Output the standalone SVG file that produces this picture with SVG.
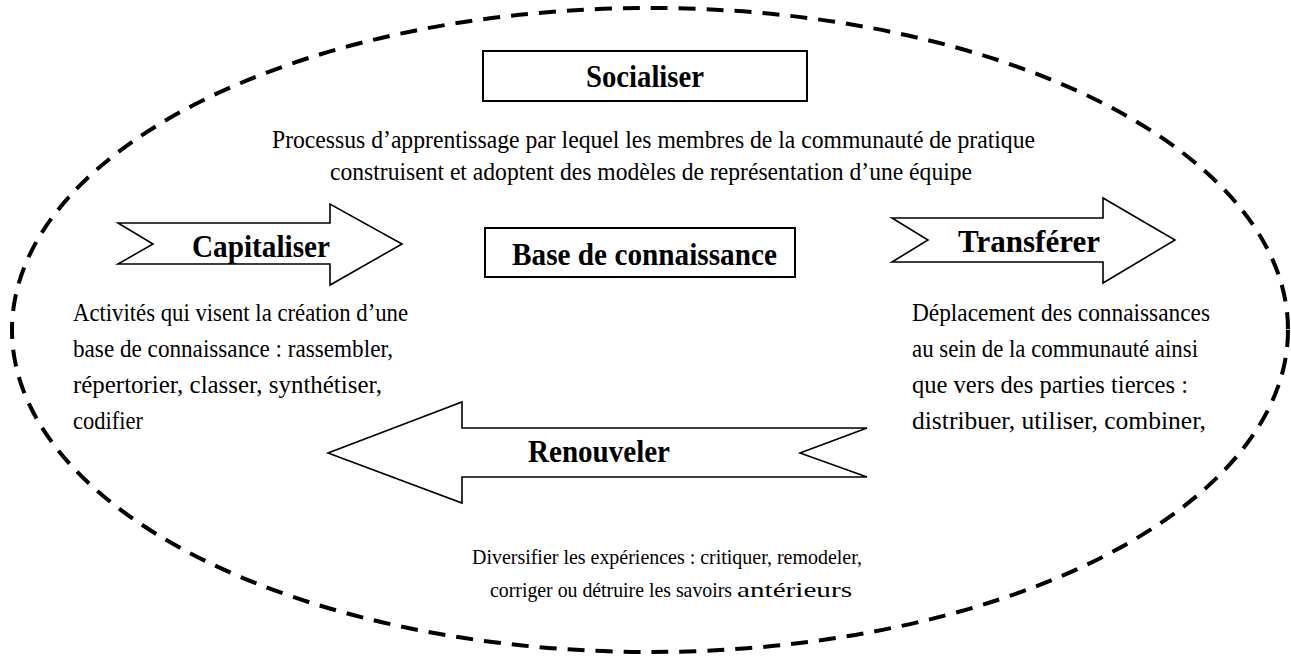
<svg xmlns="http://www.w3.org/2000/svg" width="1291" height="671" viewBox="0 0 1291 671">
  <style>
    .frame { fill: none; stroke: #000; stroke-width: 4; stroke-dasharray: 17 11; }
    .box { fill: #fff; stroke: #000; stroke-width: 2; }
    .arrow { fill: #fff; stroke: #000; stroke-width: 1.6; stroke-linejoin: miter; }
    .title { font-family: "Liberation Serif", "Times New Roman", serif; font-weight: bold; font-size: 32px; fill: #000; }
    .body { font-family: "Liberation Serif", "Times New Roman", serif; font-size: 25px; fill: #000; }
    .small { font-family: "Liberation Serif", "Times New Roman", serif; font-size: 21px; fill: #000; }
  </style>
  <rect width="1291" height="671" fill="#fff"/>

  <!-- community boundary -->
  <g id="connectors">
    <ellipse class="frame" cx="650" cy="330" rx="638" ry="322"/>
  </g>

  <g id="socialiser">
    <rect class="box" x="483" y="51" width="324" height="50"/>
    <text class="title" x="586" y="87" textLength="118" lengthAdjust="spacingAndGlyphs">Socialiser</text>
    <text class="body" x="272" y="148" textLength="763" lengthAdjust="spacingAndGlyphs">Processus d’apprentissage par lequel les membres de la communauté de pratique</text>
    <text class="body" x="330" y="180" textLength="642" lengthAdjust="spacingAndGlyphs">construisent et adoptent des modèles de représentation d’une équipe</text>
  </g>

  <g id="base">
    <rect class="box" x="485" y="228" width="310" height="49"/>
    <text class="title" x="512" y="265" textLength="265" lengthAdjust="spacingAndGlyphs">Base de connaissance</text>
  </g>

  <g id="capitaliser">
    <polygon class="arrow" points="118,223 330,223 330,204 402,244 330,285 330,264 118,264 153,244"/>
    <text class="title" x="192" y="257" textLength="138" lengthAdjust="spacingAndGlyphs">Capitaliser</text>
    <text class="body" x="73" y="321" textLength="335" lengthAdjust="spacingAndGlyphs">Activités qui visent la création d’une</text>
    <text class="body" x="73" y="357" textLength="320" lengthAdjust="spacingAndGlyphs">base de connaissance : rassembler,</text>
    <text class="body" x="73" y="393" textLength="309" lengthAdjust="spacingAndGlyphs">répertorier, classer, synthétiser,</text>
    <text class="body" x="73" y="429" textLength="70" lengthAdjust="spacingAndGlyphs">codifier</text>
  </g>

  <g id="transferer">
    <polygon class="arrow" points="892,218 1103,218 1103,198 1175,240 1103,283 1103,262 892,262 928,240"/>
    <text class="title" x="958" y="252" textLength="142" lengthAdjust="spacingAndGlyphs">Transférer</text>
    <text class="body" x="912" y="321" textLength="298" lengthAdjust="spacingAndGlyphs">Déplacement des connaissances</text>
    <text class="body" x="912" y="357" textLength="286" lengthAdjust="spacingAndGlyphs">au sein de la communauté ainsi</text>
    <text class="body" x="912" y="393" textLength="276" lengthAdjust="spacingAndGlyphs">que vers des parties tierces :</text>
    <text class="body" x="912" y="429" textLength="294" lengthAdjust="spacingAndGlyphs">distribuer, utiliser, combiner,</text>
  </g>

  <g id="renouveler">
    <polygon class="arrow" points="867,428 462,428 462,402 328,453 462,503 462,477 867,477 800,453"/>
    <text class="title" x="528" y="462" textLength="142" lengthAdjust="spacingAndGlyphs">Renouveler</text>
    <text class="small" x="472" y="564" textLength="390" lengthAdjust="spacingAndGlyphs">Diversifier les expériences : critiquer, remodeler,</text>
    <text class="small" x="490" y="597" textLength="242" lengthAdjust="spacingAndGlyphs">corriger ou détruire les savoirs</text>
    <text class="small" x="737" y="597" textLength="115" lengthAdjust="spacingAndGlyphs">antérieurs</text>
  </g>
</svg>
